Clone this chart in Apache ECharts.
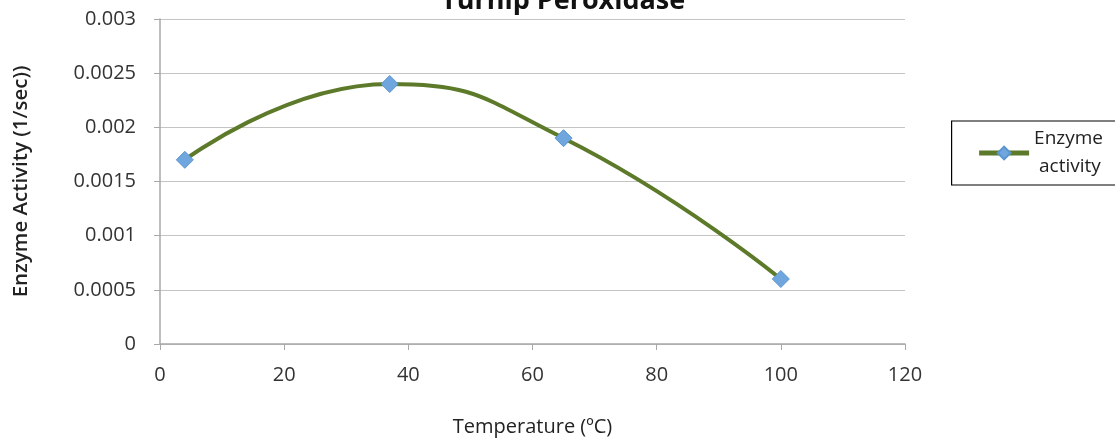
<!DOCTYPE html>
<html><head><meta charset="utf-8">
<script src="https://cdn.jsdelivr.net/npm/echarts@6/dist/echarts.min.js"></script>
<style>html,body{margin:0;padding:0;background:#fff}#c{width:1115px;height:442px}</style>
</head><body><div id="c"></div>
<script>
const temperatures = [4, 37, 65, 100];
const activity = [0.0017, 0.0024, 0.0019, 0.0006];
const seriesName = 'Enzyme\n activity';
const chart = echarts.init(document.getElementById('c'));
const font = '"Open Sans", Lato, sans-serif';
chart.setOption({
  animation: false,
  title: {text: 'Turnip Peroxidase', left: 436, top: -17,
    textStyle: {fontFamily: font, fontSize: 27, fontWeight: 'bold', color: '#111'}},
  grid: {left: 160, right: 210, top: 19, bottom: 94},
  legend: {
    right: -10, top: 121, orient: 'vertical',
    data: [seriesName],
    borderColor: '#000', borderWidth: 1.2, padding: [4, 22, 4, 25],
    itemWidth: 50, itemHeight: 16, itemGap: 4,
    lineStyle: {width: 5},
    textStyle: {fontFamily: font, fontSize: 19, color: '#222', lineHeight: 28}
  },
  xAxis: {
    type: 'value', min: 0, max: 120, interval: 20,
    name: 'Temperature (ºC)', nameLocation: 'middle', nameGap: 73,
    nameTextStyle: {fontFamily: font, fontSize: 20, color: '#222'},
    axisLine: {lineStyle: {color: '#a8a8a8', width: 1.5}},
    axisTick: {show: true, length: 6, lineStyle: {color: '#a8a8a8'}},
    axisLabel: {fontFamily: font, fontSize: 20, color: '#333', margin: 21},
    splitLine: {show: false}
  },
  yAxis: {
    type: 'value', min: 0, max: 0.003, interval: 0.0005,
    name: 'Enzyme Activity (1/sec))', nameLocation: 'middle', nameGap: 128,
    nameTextStyle: {fontFamily: font, fontSize: 20.5, fontWeight: 600, color: '#222'},
    axisLine: {show: true, lineStyle: {color: '#a8a8a8', width: 1.5}},
    axisTick: {show: true, length: 6, lineStyle: {color: '#a8a8a8'}},
    axisLabel: {fontFamily: font, fontSize: 20, color: '#333', margin: 24,
      formatter: v => String(parseFloat(v.toFixed(4)))},
    splitLine: {lineStyle: {color: '#c4c4c4', width: 1.2}}
  },
  series: [{
    name: seriesName, type: 'line', smooth: 0.5,
    data: temperatures.map((t, i) => [t, activity[i]]),
    lineStyle: {color: '#5d7a2a', width: 4},
    itemStyle: {color: '#6fa6de', borderColor: '#5b95d0', borderWidth: 1},
    symbol: 'diamond', symbolSize: 17
  }]
});
</script></body></html>
